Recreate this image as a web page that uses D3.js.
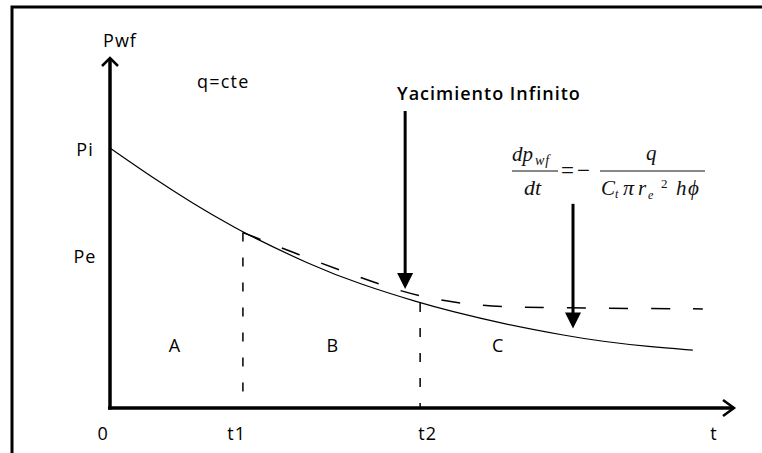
<!DOCTYPE html>
<html>
<head>
  <meta charset="utf-8">
  <title>Pwf vs t</title>
  <style>
    body { margin: 0; background: #fff; }
    svg { display: block; }
    .lbl { font: 18px "Open Sans", sans-serif; fill: #000; letter-spacing: 1px; }
    .eq { font: italic 21px "Liberation Serif", serif; fill: #111; }
    .eq-up { font: 21px "Liberation Serif", serif; fill: #111; }
  </style>
</head>
<body>
  <script src="https://d3js.org/d3.v7.min.js"></script>
  <script>
    // curve (t and pressure in arbitrary units)
    const curveT = [0, 7.5, 12.8, 18.1, 21.3, 32.1, 40, 49.7, 54.5, 62.5, 73.7, 78.5, 86.5, 93.4];
    const curveP = [74.5, 65.2, 59.2, 53.6, 50.3, 41.0, 35.5, 30.1, 27.8, 24.3, 20.5, 19.2, 17.5, 16.6];
    // infinite-reservoir line (dashed), splits off after t1
    const dashT = [21.3, 30.4, 38.5, 46.5, 52.9, 59.3, 67.3, 95.0];
    const dashP = [50.3, 43.8, 38.4, 33.4, 30.8, 29.3, 28.7, 28.4];
    const tickNames = ["0", "t1", "t2", "t"];
    const tickPos = [-1.1, 20.3, 50.9, 96.8];
    const markT = [21.3, 49.7];
    const regionNames = ["A", "B", "C"];
    const regionPos = [10.4, 35.7, 62.2];
    const pLevelNames = ["Pi", "Pe"];
    const pLevelPos = [73.9, 43.3];

    const width = 762, height = 453;
    const svg = d3.select("body").append("svg").attr("width", width).attr("height", height);

    const x = d3.scaleLinear().domain([0, 100]).range([110, 734]);
    const y = d3.scaleLinear().domain([0, 100]).range([408, 59]);

    // frame (right and bottom edges fall outside the picture)
    svg.append("path").attr("d", `M12,${height + 5} L12,7 L${width + 5},7`)
      .attr("fill", "none").attr("stroke", "#000").attr("stroke-width", 3);

    // axes
    svg.append("line").attr("x1", x(0)).attr("y1", y(0) + 1.5).attr("x2", x(0)).attr("y2", y(100) - 1)
      .attr("stroke", "#000").attr("stroke-width", 3.5);
    svg.append("line").attr("x1", x(0) - 2).attr("y1", y(0)).attr("x2", x(100)).attr("y2", y(0))
      .attr("stroke", "#000").attr("stroke-width", 3.5);
    svg.append("path").attr("d", `M${x(0) - 8},${y(100) + 7} L${x(0)},${y(100) - 1} L${x(0) + 8},${y(100) + 7}`)
      .attr("fill", "none").attr("stroke", "#000").attr("stroke-width", 2.5);
    svg.append("path").attr("d", `M${x(100) - 11},${y(0) - 8} L${x(100)},${y(0)} L${x(100) - 11},${y(0) + 8}`)
      .attr("fill", "none").attr("stroke", "#000").attr("stroke-width", 2.5);

    // vertical dashed markers at t1, t2
    svg.selectAll(".mark").data(markT).join("line")
      .attr("class", "mark")
      .attr("x1", d => x(d)).attr("x2", d => x(d))
      .attr("y1", d => y(curveP[curveT.indexOf(d)])).attr("y2", y(0))
      .attr("stroke", "#000").attr("stroke-width", 1.5).attr("stroke-dasharray", "9,16");

    const line = d3.line().x(d => x(d[0])).y(d => y(d[1])).curve(d3.curveBasis);

    svg.append("path").datum(dashT.map((t, i) => [t, dashP[i]]))
      .attr("d", line).attr("fill", "none").attr("stroke", "#000")
      .attr("stroke-width", 1.5).attr("stroke-dasharray", "19,23");

    svg.append("path").datum(curveT.map((t, i) => [t, curveP[i]]))
      .attr("d", line).attr("fill", "none").attr("stroke", "#000").attr("stroke-width", 1.2);

    // solid arrows with triangular heads
    const arrows = [{ t: 47.3, from: 85.1, to: 34.1 }, { t: 74.2, from: 58.5, to: 22.8 }];
    arrows.forEach(a => {
      const ax = x(a.t), tip = y(a.to);
      svg.append("line").attr("x1", ax).attr("x2", ax).attr("y1", y(a.from)).attr("y2", tip - 14)
        .attr("stroke", "#000").attr("stroke-width", 3);
      svg.append("path").attr("d", `M${ax - 8},${tip - 16} L${ax + 8},${tip - 16} L${ax},${tip} Z`)
        .attr("fill", "#000");
    });

    // tick labels
    svg.selectAll(".tick").data(tickNames).join("text")
      .attr("class", "lbl").attr("text-anchor", "middle")
      .attr("x", (d, i) => x(tickPos[i])).attr("y", 440).text(d => d);

    svg.selectAll(".region").data(regionNames).join("text")
      .attr("class", "lbl").attr("text-anchor", "middle")
      .attr("x", (d, i) => x(regionPos[i])).attr("y", 352).text(d => d);

    svg.selectAll(".plevel").data(pLevelNames).join("text")
      .attr("class", "lbl").attr("text-anchor", "middle")
      .attr("x", 85).attr("y", (d, i) => y(pLevelPos[i]) + 6).text(d => d);

    svg.append("text").attr("class", "lbl").attr("text-anchor", "middle")
      .attr("x", 120).attr("y", 47).text("Pwf");
    svg.append("text").attr("class", "lbl").attr("x", 197).attr("y", 88)
      .style("letter-spacing", "1.2px").text("q=cte");
    svg.append("text").attr("class", "lbl").attr("x", 397).attr("y", 100)
      .style("font-weight", 600).text("Yacimiento Infinito");

    // dp_wf/dt = - q / (C_t pi r_e^2 h phi)
    const eq = svg.append("g");
    const bits = [
      { s: "dp", x: 512, y: 161, cls: "eq" },
      { s: "wf", x: 535, y: 165, cls: "eq", size: 14 },
      { s: "dt", x: 524, y: 195, cls: "eq", size: 22 },
      { s: "=", x: 561, y: 178, cls: "eq-up", size: 23 },
      { s: "\u2212", x: 577, y: 178, cls: "eq-up", size: 23 },
      { s: "q", x: 646, y: 160, cls: "eq" },
      { s: "C", x: 601, y: 195, cls: "eq" },
      { s: "t", x: 615, y: 198, cls: "eq", size: 12 },
      { s: "\u03c0", x: 623, y: 195, cls: "eq", size: 22 },
      { s: "r", x: 638, y: 195, cls: "eq" },
      { s: "e", x: 648, y: 199, cls: "eq", size: 12 },
      { s: "2", x: 661, y: 188, cls: "eq-up", size: 13 },
      { s: "h", x: 676, y: 195, cls: "eq" },
      { s: "\u03d5", x: 688, y: 195, cls: "eq" }
    ];
    eq.selectAll("text").data(bits).join("text")
      .attr("class", d => d.cls).attr("x", d => d.x).attr("y", d => d.y)
      .style("font-size", d => d.size ? d.size + "px" : null)
      .style("letter-spacing", d => d.s === "wf" ? "1px" : null).text(d => d.s);
    eq.selectAll("line").data([[512, 558], [600, 705]]).join("line")
      .attr("x1", d => d[0]).attr("x2", d => d[1]).attr("y1", 171).attr("y2", 171)
      .attr("stroke", "#111").attr("stroke-width", 1.2);
  </script>
</body>
</html>
